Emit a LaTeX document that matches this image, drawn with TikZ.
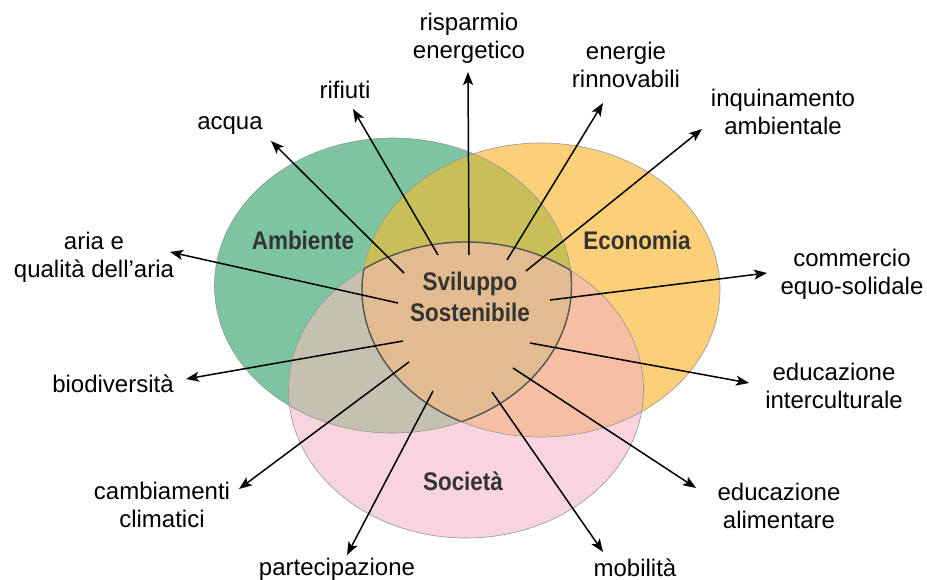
\documentclass[tikz,border=0pt]{standalone}
\usepackage{fontspec}
\setmainfont{Liberation Sans}
\newfontfamily\headfont{Liberation Sans}[FakeStretch=0.88]
\usetikzlibrary{arrows.meta}

% region colours of the three-set diagram
\definecolor{cAmb}{RGB}{125,196,160}
\definecolor{cEco}{RGB}{252,207,121}
\definecolor{cSoc}{RGB}{247,212,222}
\definecolor{cAmbEco}{RGB}{200,191,88}
\definecolor{cAmbSoc}{RGB}{196,193,176}
\definecolor{cEcoSoc}{RGB}{246,190,163}
\definecolor{cCore}{RGB}{226,187,144}
\definecolor{cRim}{RGB}{150,150,150}
\definecolor{cCoreRim}{RGB}{85,85,85}
\definecolor{cHead}{RGB}{51,51,51}

\def\ellAmb{(393,285.5) ellipse [x radius=178.5pt, y radius=147.5pt]}
\def\ellEco{(541,290) ellipse [x radius=179pt, y radius=147pt]}
\def\ellSoc{(466,390) ellipse [x radius=177.5pt, y radius=148pt]}

\begin{document}
\begin{tikzpicture}[x=1pt,y=-1pt,
  lbl/.style={align=center, text=black, inner sep=0pt,
    font=\fontsize{24}{28}\selectfont},
  head/.style={align=center, text=cHead, inner sep=0pt,
    font=\headfont\bfseries\fontsize{25.5}{31.5}\selectfont},
  arr/.style={-{Stealth[length=13pt, width=10pt, inset=3pt]}, line width=1.5pt, black},
  rim/.style={draw=cRim, line width=0.6pt}]
\useasboundingbox (0,0) rectangle (927,580);

% base fills
\fill[cAmb] \ellAmb;
\fill[cEco] \ellEco;
\fill[cSoc] \ellSoc;
% pairwise overlaps
\begin{scope}
  \clip \ellAmb;
  \fill[cAmbEco] \ellEco;
  \fill[cAmbSoc] \ellSoc;
\end{scope}
\begin{scope}
  \clip \ellEco;
  \fill[cEcoSoc] \ellSoc;
\end{scope}
% common core
\begin{scope}
  \clip \ellAmb;
  \clip \ellEco;
  \fill[cCore] \ellSoc;
\end{scope}
% thin outlines of the three sets
\path[rim] \ellAmb;
\path[rim] \ellEco;
\path[rim] \ellSoc;
% dark outline of the common core
\begin{scope}
  \clip \ellAmb; \clip \ellEco;
  \draw[cCoreRim, line width=1.4pt] \ellSoc;
\end{scope}
\begin{scope}
  \clip \ellEco; \clip \ellSoc;
  \draw[cCoreRim, line width=1.4pt] \ellAmb;
\end{scope}
\begin{scope}
  \clip \ellAmb; \clip \ellSoc;
  \draw[cCoreRim, line width=1.4pt] \ellEco;
\end{scope}

% set titles
\node[head] (amb) at (303,240) {Ambiente};
\node[head] (eco) at (637,240) {Economia};
\node[head] (soc) at (463,481) {Società};
\node[head] (core) at (470,297) {Sviluppo\\Sostenibile};

% surrounding labels
\node[lbl] (risp) at (469,38) {risparmio\\energetico};
\node[lbl] (ener) at (626,65) {energie\\rinnovabili};
\node[lbl] (inq)  at (783,112) {inquinamento\\ambientale};
\node[lbl] (rif)  at (345,90) {rifiuti};
\node[lbl] (acq)  at (230,126) {acqua};
\node[lbl] (aria) at (94,257) {aria e\\qualità dell’aria};
\node[lbl] (comm) at (852,274) {commercio\\equo-solidale};
\node[lbl] (bio)  at (113,384) {biodiversità};
\node[lbl] (inter) at (834,386) {educazione\\interculturale};
\node[lbl] (alim) at (779,506) {educazione\\alimentare};
\node[lbl] (mob)  at (635,567.5) {mobilità};
\node[lbl] (part) at (337,569) {partecipazione};
\node[lbl] (clim) at (162,505) {cambiamenti\\climatici};

% arrow start points inside the core
\coordinate (sAcq)   at (404,273);
\coordinate (sRif)   at (438,255);
\coordinate (sRisp)  at (469,255);
\coordinate (sEner)  at (507,260);
\coordinate (sInq)   at (526,271);
\coordinate (sAria)  at (398,303);
\coordinate (sComm)  at (550,300);
\coordinate (sBio)   at (403,341);
\coordinate (sInter) at (530,343);
\coordinate (sClim)  at (409,362);
\coordinate (sAlim)  at (513,368);
\coordinate (sPart)  at (433,391);
\coordinate (sMob)   at (492,392);
% arrow tips next to the labels
\coordinate (tAcq)   at (271,141);
\coordinate (tRif)   at (353,109);
\coordinate (tRisp)  at (468,72);
\coordinate (tEner)  at (603,103);
\coordinate (tInq)   at (702,129);
\coordinate (tAria)  at (170,252);
\coordinate (tComm)  at (767,273);
\coordinate (tBio)   at (186,379);
\coordinate (tInter) at (749,383);
\coordinate (tClim)  at (239,489);
\coordinate (tAlim)  at (696,488);
\coordinate (tPart)  at (347,555);
\coordinate (tMob)   at (603,552);

\draw[arr] (sAcq) -- (tAcq);
\draw[arr] (sRif) -- (tRif);
\draw[arr] (sRisp) -- (tRisp);
\draw[arr] (sEner) -- (tEner);
\draw[arr] (sInq) -- (tInq);
\draw[arr] (sAria) -- (tAria);
\draw[arr] (sComm) -- (tComm);
\draw[arr] (sBio) -- (tBio);
\draw[arr] (sInter) -- (tInter);
\draw[arr] (sClim) -- (tClim);
\draw[arr] (sAlim) -- (tAlim);
\draw[arr] (sPart) -- (tPart);
\draw[arr] (sMob) -- (tMob);
\end{tikzpicture}
\end{document}
